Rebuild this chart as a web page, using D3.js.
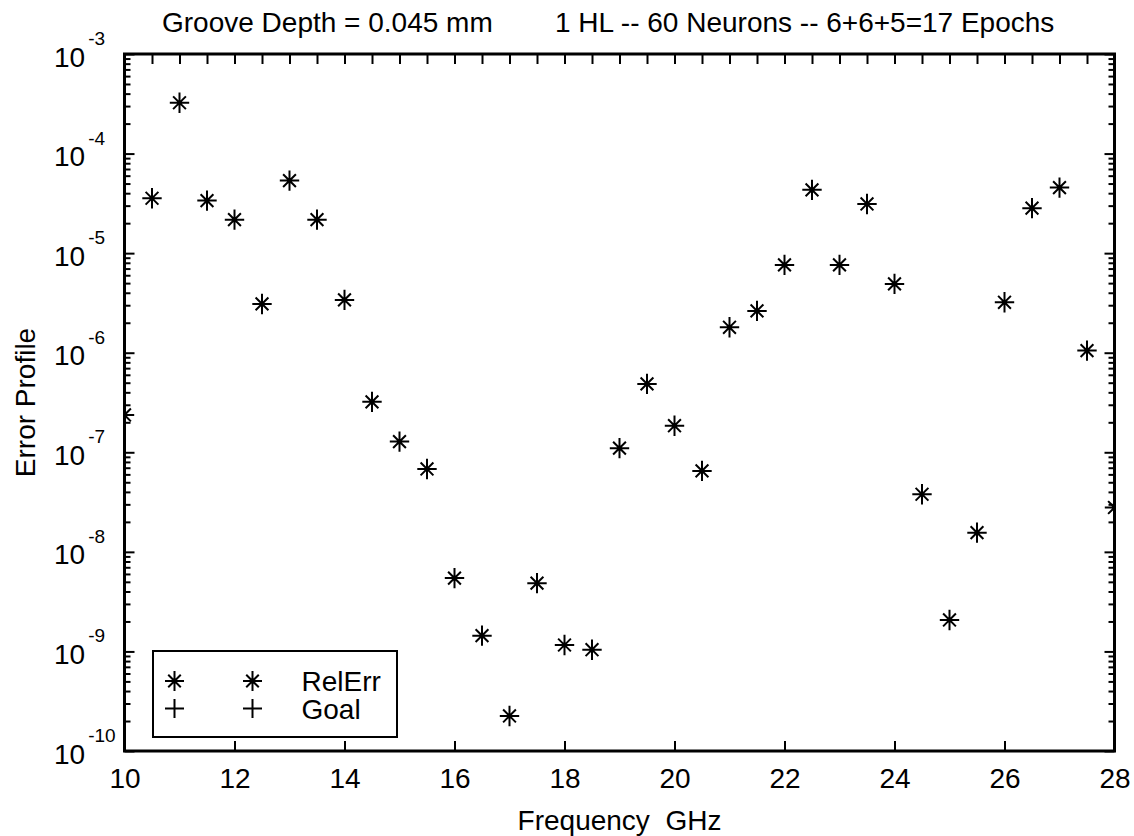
<!DOCTYPE html>
<html>
<head>
<meta charset="utf-8">
<title>Error Profile</title>
<script src="https://cdn.jsdelivr.net/npm/d3@7"></script>
<style>
body{margin:0;background:#fff}
text{font-family:"Liberation Sans",Arial,sans-serif;fill:#000}
.ax line{stroke:#000;stroke-width:2px}
.ax path{display:none}
</style>
</head>
<body>
<svg id=chart width=1134 height=836></svg>
<script>
// frequencies (GHz) and relative error
var freqs=[10,10.5,11,11.5,12,12.5,13,13.5,14,14.5,15,15.5,16,16.5,17,17.5,18,18.5,19,
           19.5,20,20.5,21,21.5,22,22.5,23,23.5,24,24.5,25,25.5,26,26.5,27,27.5,28]
var relErr=[2.37e-7,3.56e-5,3.24e-4,3.37e-5,2.17e-5,3.09e-6,5.35e-5,2.17e-5,3.39e-6,3.21e-7,
            1.28e-7,6.8e-8,5.45e-9,1.44e-9,2.25e-10,4.85e-9,1.16e-9,1.04e-9,1.10e-7,
            4.86e-7,1.85e-7,6.5e-8,1.80e-6,2.63e-6,7.62e-6,4.32e-5,7.62e-6,3.12e-5,4.91e-6,
            3.79e-8,2.07e-9,1.56e-8,3.21e-6,2.83e-5,4.55e-5,1.05e-6,2.79e-8]
var xTicks=[10,12,14,16,18,20,22,24,26,28]
var xTopTicks=[10,10.5,11,11.5,12,12.5,13,13.5,14,14.5,15,15.5,16,16.5,17,17.5,18,18.5,19,
               19.5,20,20.5,21,21.5,22,22.5,23,23.5,24,24.5,25,25.5,26,26.5,27,27.5,28]
var yExps=[-3,-4,-5,-6,-7,-8,-9,-10]
var legendNames=["RelErr","Goal"]
var titleText="Groove Depth = 0.045 mm        1 HL -- 60 Neurons -- 6+6+5=17 Epochs"

var L=124.5, R=1114.5, T=54, B=751

var svg=d3.select("#chart")

var x=d3.scaleLinear().domain([10,28]).range([L,R])
var y=d3.scaleLog().domain([1e-10,1e-3]).range([B,T])

// minor log ticks 2..9 per decade
var minor=[]
yExps.slice(1).forEach(function(e){
  for(var k=2;k<=9;k++) minor.push(k*Math.pow(10,e))
})
var major=yExps.map(function(e){return Math.pow(10,e)})

svg.append("g").attr("class","ax")
  .attr("transform","translate(0,"+B+")")
  .call(d3.axisBottom(x).tickValues(xTicks).tickSizeInner(-10).tickSizeOuter(0).tickPadding(17)
        .tickFormat(d3.format("d")))
  .selectAll("text").style("font-size","28px").style("font-family","Liberation Sans, Arial, sans-serif")

svg.append("g").attr("class","ax")
  .attr("transform","translate(0,"+T+")")
  .call(d3.axisTop(x).tickValues(xTopTicks).tickSizeInner(-10).tickSizeOuter(0).tickFormat(""))

svg.append("g").attr("class","ax")
  .attr("transform","translate("+L+",0)")
  .call(d3.axisLeft(y).tickValues(minor).tickSizeInner(-6).tickSizeOuter(0).tickFormat(""))
svg.append("g").attr("class","ax")
  .attr("transform","translate("+L+",0)")
  .call(d3.axisLeft(y).tickValues(major).tickSizeInner(-10).tickSizeOuter(0).tickFormat(""))
svg.append("g").attr("class","ax")
  .attr("transform","translate("+R+",0)")
  .call(d3.axisRight(y).tickValues(minor).tickSizeInner(-6).tickSizeOuter(0).tickFormat(""))
svg.append("g").attr("class","ax")
  .attr("transform","translate("+R+",0)")
  .call(d3.axisRight(y).tickValues(major).tickSizeInner(-10).tickSizeOuter(0).tickFormat(""))

// y labels 10^n, left aligned like the original
var yl=svg.append("g").selectAll("text").data(yExps).enter().append("text")
  .attr("x",54).attr("y",function(e){return y(Math.pow(10,e))+12.5})
  .style("font-size","28px")
yl.append("tspan").text("10")
yl.append("tspan").attr("dx",3).attr("dy",-21.5).style("font-size","19px").text(function(e){return e})

// box
svg.append("rect").attr("x",L).attr("y",T).attr("width",R-L).attr("height",B-T)
  .attr("fill","none").attr("stroke","#000").attr("stroke-width",3)

svg.append("clipPath").attr("id","plotclip").append("rect")
  .attr("x",L).attr("y",T).attr("width",R-L).attr("height",B-T)

function starPath(s){
  var d=s*0.66
  return "M"+(-s)+",0H"+s+"M0,"+(-s-0.5)+"V"+(s+0.5)+
         "M"+(-d)+","+(-d)+"L"+d+","+d+"M"+(-d)+","+d+"L"+d+","+(-d)
}
function plusPath(s){return "M"+(-s)+",0H"+s+"M0,"+(-s)+"V"+s}

svg.append("g").attr("clip-path","url(#plotclip)")
  .selectAll("path").data(freqs).enter().append("path")
  .attr("transform",function(f,i){return "translate("+x(f)+","+y(relErr[i])+")"})
  .attr("d",starPath(9.7))
  .attr("fill","none").attr("stroke","#000").attr("stroke-width",2)

// legend
var lg=svg.append("g")
lg.append("rect").attr("x",153).attr("y",651).attr("width",244).attr("height",86)
  .attr("fill","#fff").attr("stroke","#000").attr("stroke-width",2)
var rows=lg.selectAll("g").data(legendNames).enter().append("g")
  .attr("transform",function(d,i){return "translate(0,"+(681+i*27.5)+")"})
rows.each(function(d,i){
  var g=d3.select(this)
  ;[174.5,252.5].forEach(function(px){
    g.append("path").attr("transform","translate("+px+",0)")
     .attr("d",i==0?starPath(9.5):plusPath(9.5))
     .attr("fill","none").attr("stroke","#000").attr("stroke-width",2)
  })
  g.append("text").attr("x",301.5).attr("y",i==0?9.7:10.5).style("font-size","28px").text(d)
})

// titles
svg.append("text").attr("x",162).attr("y",32).style("font-size","28px")
  .style("white-space","pre").attr("xml:space","preserve").text(titleText)
svg.append("text").attr("x",(L+R)/2).attr("y",830).attr("text-anchor","middle")
  .style("font-size","28px").text("Frequency  GHz").style("white-space","pre")
svg.append("text").attr("transform","translate(35,"+((T+B)/2)+") rotate(-90)")
  .attr("text-anchor","middle").style("font-size","28px").text("Error Profile")
</script>
</body>
</html>
